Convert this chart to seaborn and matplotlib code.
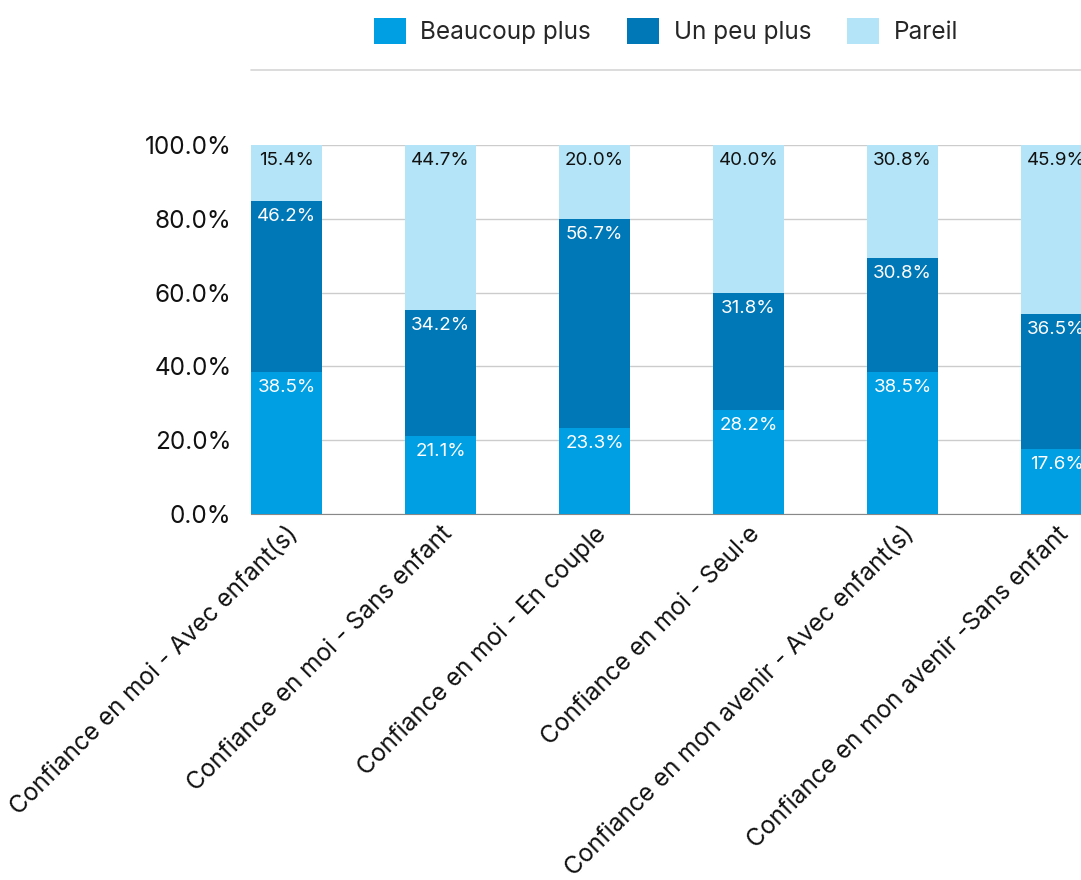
import pandas as pd
import matplotlib.pyplot as plt
import seaborn as sns
from matplotlib.patches import Patch
from matplotlib.lines import Line2D

categories = ['Confiance en moi - Avec enfant(s)', 'Confiance en moi - Sans enfant',
              'Confiance en moi - En couple', 'Confiance en moi - Seul·e',
              'Confiance en mon avenir - Avec enfant(s)', 'Confiance en mon avenir -Sans enfant']
beaucoup = [38.5, 21.1, 23.3, 28.2, 38.5, 17.6]
un_peu = [46.2, 34.2, 56.7, 31.8, 30.8, 36.5]
pareil = [15.4, 44.7, 20.0, 40.0, 30.8, 45.9]

series = ['Beaucoup plus', 'Un peu plus', 'Pareil']
colors = ['#009FE3', '#0078B7', '#B3E4F7']
label_colors = ['white', 'white', '#111111']

sns.set_style('white')
plt.rcParams['font.family'] = ['Inter', 'DejaVu Sans']

df = pd.DataFrame({'cat': categories, 'Beaucoup plus': beaucoup,
                   'Un peu plus': un_peu, 'Pareil': pareil})
# cumulative tops for stacking
df['top1'] = df['Beaucoup plus']
df['top2'] = df['top1'] + df['Un peu plus']
df['top3'] = df['top2'] + df['Pareil']

fig = plt.figure(figsize=(10.81, 8.8), dpi=100)
ax = fig.add_axes([251 / 1081, 366 / 880, 882.5 / 1081, 369 / 880])

# draw from tallest to shortest so each layer shows
for col, c in zip(['top3', 'top2', 'top1'], colors[::-1]):
    sns.barplot(data=df, x='cat', y=col, color=c, saturation=1, width=0.461,
                linewidth=0, ax=ax, zorder=3)

ax.set_xlim(-0.2305, 5.5)
ax.set_ylim(0, 100)
ax.set_yticks(range(0, 101, 20))
ax.set_yticklabels([f'{v:.1f}%' for v in range(0, 101, 20)], fontsize=17.5, color='#111111')
ax.grid(axis='y', color='#CCCCCC', linewidth=1, zorder=0)
ax.tick_params(axis='y', length=0, pad=14)
ax.tick_params(axis='x', length=0, pad=6)
for s in ['top', 'right', 'left']:
    ax.spines[s].set_visible(False)
ax.spines['bottom'].set_color('#888888')
ax.set_xlabel('')
ax.set_ylabel('')
plt.setp(ax.get_xticklabels(), rotation=45, ha='right', rotation_mode='anchor',
         fontsize=17.5, color='#111111')

# value labels at top of each segment
for i in range(len(categories)):
    tops = [df['top1'][i], df['top2'][i], min(df['top3'][i], 100)]
    vals = [beaucoup[i], un_peu[i], pareil[i]]
    for t, v, lc in zip(tops, vals, label_colors):
        ax.annotate(f'{v:.1f}%', (i, t), xytext=(0, -5), textcoords='offset points',
                    ha='center', va='top', fontsize=13.5, color=lc, zorder=5)

handles = [Patch(facecolor=c, edgecolor='none') for c in colors]
fig.legend(handles, series, loc='center', bbox_to_anchor=(666 / 1081, 1 - 31 / 880),
           ncol=3, frameon=False, fontsize=17.5, handlelength=1.3, handleheight=1.3,
           handletextpad=0.6, columnspacing=1.5)
fig.add_artist(Line2D([251 / 1081, 1], [1 - 70 / 880] * 2, color='#D5D5D5',
                      linewidth=1.2, transform=fig.transFigure))

fig.savefig('out.png', dpi=100)
